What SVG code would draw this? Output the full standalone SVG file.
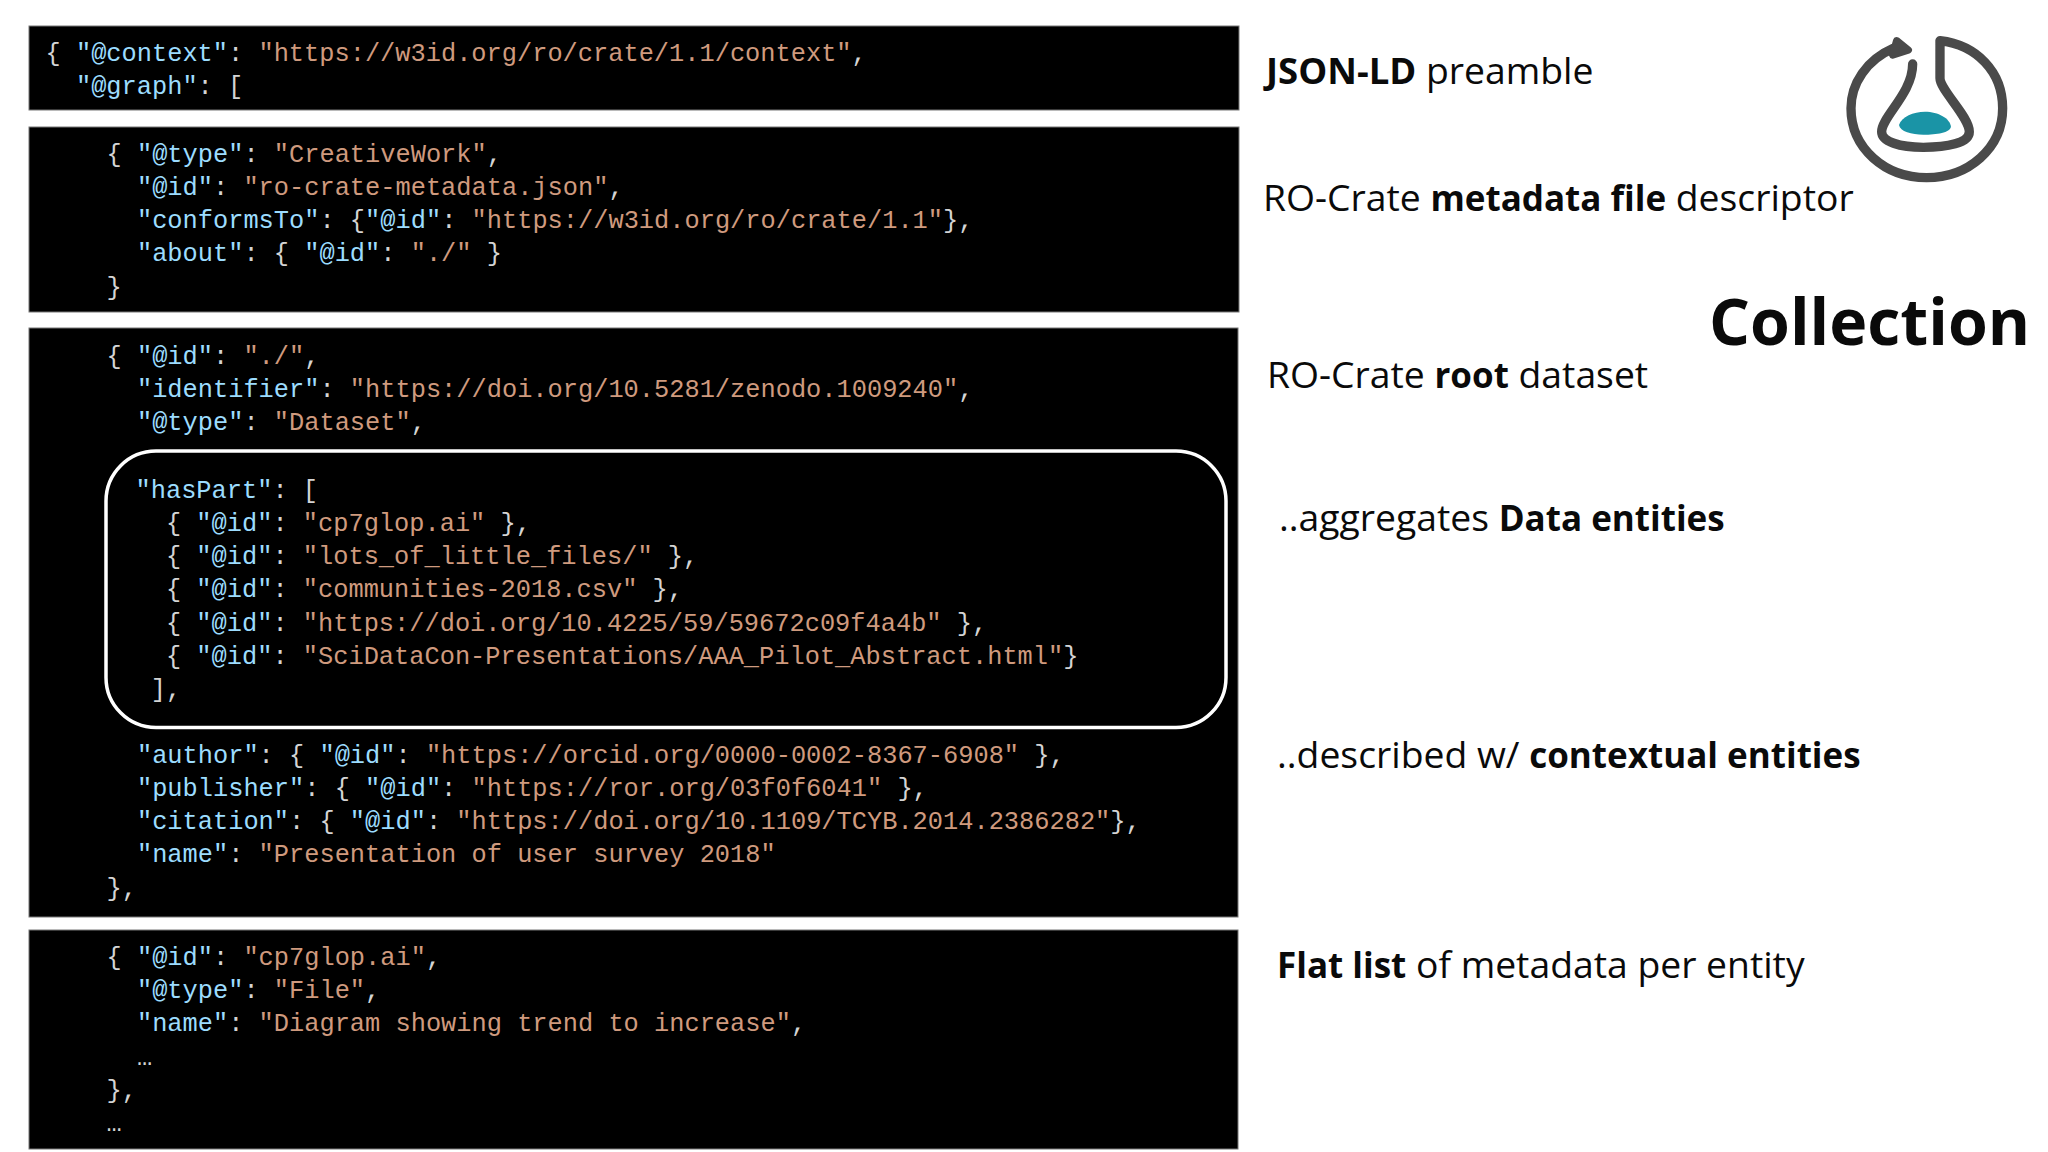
<svg xmlns="http://www.w3.org/2000/svg" width="2048" height="1152" viewBox="0 0 2048 1152">
<style>
.b{fill:#000;stroke:#777;stroke-width:1}
.c{font-family:"Liberation Mono",monospace;font-size:25.35px;fill:#d4d4d4;white-space:pre}
.k{fill:#9cdcfe}.s{fill:#cf9a7e}
.l{font-family:"Open Sans",sans-serif;font-size:37.3px;fill:#0a0a0a}
.l tspan{font-weight:700;font-size:35px}
</style>
<rect width="2048" height="1152" fill="#fff"/>
<g id="preamble"><rect class="b" x="29" y="26" width="1210" height="84"/>
<text class="c" x="45.5" y="61" xml:space="preserve">{ <tspan class="k">"@context"</tspan>: <tspan class="s">"https://w3id.org/ro/crate/1.1/context"</tspan>,</text>
<text class="c" x="45.5" y="94" xml:space="preserve">  <tspan class="k">"@graph"</tspan>: [</text></g>
<g id="descriptor"><rect class="b" x="29" y="127" width="1210" height="185"/>
<text class="c" x="106.5" y="162" xml:space="preserve">{ <tspan class="k">"@type"</tspan>: <tspan class="s">"CreativeWork"</tspan>,</text>
<text class="c" x="106.5" y="195" xml:space="preserve">  <tspan class="k">"@id"</tspan>: <tspan class="s">"ro-crate-metadata.json"</tspan>,</text>
<text class="c" x="106.5" y="228" xml:space="preserve">  <tspan class="k">"conformsTo"</tspan>: {<tspan class="k">"@id"</tspan>: <tspan class="s">"https://w3id.org/ro/crate/1.1"</tspan>},</text>
<text class="c" x="106.5" y="261" xml:space="preserve">  <tspan class="k">"about"</tspan>: { <tspan class="k">"@id"</tspan>: <tspan class="s">"./"</tspan> }</text>
<text class="c" x="106.5" y="295" xml:space="preserve">}</text></g>
<g id="root"><rect class="b" x="29" y="328" width="1209" height="589"/>
<text class="c" x="106.5" y="364" xml:space="preserve">{ <tspan class="k">"@id"</tspan>: <tspan class="s">"./"</tspan>,</text>
<text class="c" x="106.5" y="397" xml:space="preserve">  <tspan class="k">"identifier"</tspan>: <tspan class="s">"https://doi.org/10.5281/zenodo.1009240"</tspan>,</text>
<text class="c" x="106.5" y="430" xml:space="preserve">  <tspan class="k">"@type"</tspan>: <tspan class="s">"Dataset"</tspan>,</text>
<rect x="106" y="451" width="1120" height="276.500" rx="50" fill="none" stroke="#fff" stroke-width="3.5"/>
<text class="c" x="135.500" y="498" xml:space="preserve"><tspan class="k">"hasPart"</tspan>: [</text>
<text class="c" x="135.500" y="531" xml:space="preserve">  { <tspan class="k">"@id"</tspan>: <tspan class="s">"cp7glop.ai"</tspan> },</text>
<text class="c" x="135.500" y="564" xml:space="preserve">  { <tspan class="k">"@id"</tspan>: <tspan class="s">"lots_of_little_files/"</tspan> },</text>
<text class="c" x="135.500" y="597" xml:space="preserve">  { <tspan class="k">"@id"</tspan>: <tspan class="s">"communities-2018.csv"</tspan> },</text>
<text class="c" x="135.500" y="631" xml:space="preserve">  { <tspan class="k">"@id"</tspan>: <tspan class="s">"https://doi.org/10.4225/59/59672c09f4a4b"</tspan> },</text>
<text class="c" x="135.500" y="664" xml:space="preserve">  { <tspan class="k">"@id"</tspan>: <tspan class="s">"SciDataCon-Presentations/AAA_Pilot_Abstract.html"</tspan>}</text>
<text class="c" x="135.500" y="697" xml:space="preserve"> ],</text>
<text class="c" x="106.5" y="763" xml:space="preserve">  <tspan class="k">"author"</tspan>: { <tspan class="k">"@id"</tspan>: <tspan class="s">"https://orcid.org/0000-0002-8367-6908"</tspan> },</text>
<text class="c" x="106.5" y="796" xml:space="preserve">  <tspan class="k">"publisher"</tspan>: { <tspan class="k">"@id"</tspan>: <tspan class="s">"https://ror.org/03f0f6041"</tspan> },</text>
<text class="c" x="106.5" y="829" xml:space="preserve">  <tspan class="k">"citation"</tspan>: { <tspan class="k">"@id"</tspan>: <tspan class="s">"https://doi.org/10.1109/TCYB.2014.2386282"</tspan>},</text>
<text class="c" x="106.5" y="862" xml:space="preserve">  <tspan class="k">"name"</tspan>: <tspan class="s">"Presentation of user survey 2018"</tspan></text>
<text class="c" x="106.5" y="896" xml:space="preserve">},</text></g>
<g id="entity"><rect class="b" x="29" y="930" width="1209" height="219"/>
<text class="c" x="106.5" y="965" xml:space="preserve">{ <tspan class="k">"@id"</tspan>: <tspan class="s">"cp7glop.ai"</tspan>,</text>
<text class="c" x="106.5" y="998" xml:space="preserve">  <tspan class="k">"@type"</tspan>: <tspan class="s">"File"</tspan>,</text>
<text class="c" x="106.5" y="1031" xml:space="preserve">  <tspan class="k">"name"</tspan>: <tspan class="s">"Diagram showing trend to increase"</tspan>,</text>
<text class="c" x="106.5" y="1065" xml:space="preserve">  …</text>
<text class="c" x="106.5" y="1098" xml:space="preserve">},</text>
<text class="c" x="106.5" y="1131" xml:space="preserve">…</text></g>
<g id="labels">
<text class="l" x="1266" y="84"><tspan style="font-size:36.5px">JSON-LD</tspan> preamble</text>
<text class="l" x="1263" y="211">RO-Crate <tspan>metadata file</tspan> descriptor</text>
<text class="l" x="1709" y="345" style="font-size:64.4px;font-weight:700">Collection</text>
<text class="l" x="1267" y="388">RO-Crate <tspan>root</tspan> dataset</text>
<text class="l" x="1279" y="531">..aggregates <tspan>Data entities</tspan></text>
<text class="l" x="1277" y="768">..described w/ <tspan>contextual entities</tspan></text>
<text class="l" x="1277" y="978"><tspan>Flat list</tspan> of metadata per entity</text>
</g>
<g id="logo" transform="translate(1780 0) scale(.3333)">
<path d="M340,145C260,180 213,250 213,325C213,445 315,533 440,533C565,533 668,445 668,325C668,215 590,135 480,122L480,235C480,270 568,350 568,395C568,430 500,442 430,442C360,442 305,425 305,395C305,350 398,280 398,192" fill="none" stroke="#4a4a4a" stroke-width="28" stroke-linecap="round" stroke-linejoin="round"/>
<path d="M350,122L385,150L338,165Z" fill="#4a4a4a" stroke="#4a4a4a" stroke-width="22" stroke-linejoin="round"/>
<path d="M357,375C365,350 400,335 435,335C475,335 510,355 513,380C510,398 470,404 430,404C395,404 360,395 357,375Z" fill="#1a94a6"/>
</g>
</svg>
